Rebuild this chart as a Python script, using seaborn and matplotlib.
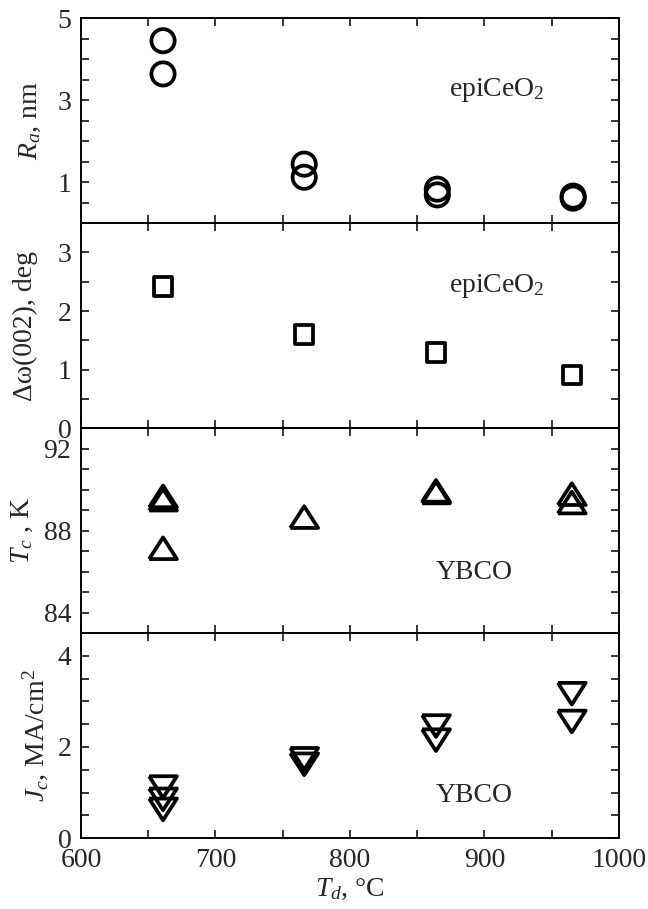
import numpy as np
import pandas as pd
import seaborn as sns
import matplotlib
matplotlib.use("Agg")
import matplotlib.pyplot as plt
from matplotlib.ticker import FixedLocator, MultipleLocator
from matplotlib.markers import MarkerStyle

# deposition temperature, deg C
td_ra = [661, 661, 766, 766, 865, 865, 966, 966]
ra = [4.45, 3.64, 1.44, 1.12, 0.83, 0.69, 0.66, 0.61]

td_dw = [661, 766, 864, 965]
dw = [2.42, 1.60, 1.29, 0.91]

td_tc = [661, 661, 661, 766, 864, 864, 965, 965]
tc = [89.67, 89.51, 87.14, 88.66, 89.94, 89.86, 89.78, 89.37]

td_jc = [661, 661, 661, 766, 766, 864, 864, 965, 965]
jc = [1.12, 0.85, 0.63, 1.74, 1.62, 2.46, 2.15, 3.17, 2.56]

sns.set_style("ticks")
plt.rcParams["font.family"] = ["Liberation Serif", "DejaVu Serif"]
plt.rcParams["mathtext.fontset"] = "custom"
plt.rcParams["mathtext.rm"] = "Liberation Serif"
plt.rcParams["mathtext.it"] = "Liberation Serif:italic"
plt.rcParams["font.size"] = 20

fig, axes = plt.subplots(4, 1, sharex=True, figsize=(6.48, 9.09), dpi=100)
fig.subplots_adjust(left=0.125, right=0.955, top=0.980, bottom=0.078, hspace=0)

tri_up = MarkerStyle([(-1, -0.78), (1, -0.78), (0, 0.78), (-1, -0.78)])
tri_dn = MarkerStyle([(-1, 0.78), (1, 0.78), (0, -0.78), (-1, 0.78)])

opts = dict(facecolor="none", edgecolor="black", linewidth=2.7, legend=False)

sns.scatterplot(data=pd.DataFrame({"td": td_ra, "v": ra}), x="td", y="v",
                marker="o", s=280, ax=axes[0], **opts)
sns.scatterplot(data=pd.DataFrame({"td": td_dw, "v": dw}), x="td", y="v",
                marker="s", s=175, ax=axes[1], **opts)
sns.scatterplot(data=pd.DataFrame({"td": td_tc, "v": tc}), x="td", y="v",
                marker=tri_up, s=400, ax=axes[2], **opts)
sns.scatterplot(data=pd.DataFrame({"td": td_jc, "v": jc}), x="td", y="v",
                marker=tri_dn, s=400, ax=axes[3], **opts)

ylims = [(0, 5), (0, 3.5), (83, 93), (0, 4.5)]
majors = [[1, 3, 5], [0, 1, 2, 3], [84, 88, 92], [0, 2, 4]]
minors = [0.5, 0.5, 1, 0.5]
ylabels = [r"$R_a$, nm", "\u0394\u03c9(002), deg", r"$T_c$ , K", r"$J_c$, MA/cm$^2$"]
label_x = [-0.070, -0.080, -0.086, -0.058]
notes = [("epiCeO$_2$", 3.25), ("epiCeO$_2$", 2.42), ("YBCO", 85.95), ("YBCO", 0.93)]

for i, ax in enumerate(axes):
    ax.set_xlim(600, 1000)
    ax.set_ylim(*ylims[i])
    ax.yaxis.set_major_locator(FixedLocator(majors[i]))
    ax.yaxis.set_minor_locator(MultipleLocator(minors[i]))
    ax.xaxis.set_major_locator(MultipleLocator(100))
    ax.xaxis.set_minor_locator(MultipleLocator(50))
    ax.tick_params(which="both", direction="in", top=True, right=True,
                   length=6, width=1.1, color="black")
    ax.tick_params(axis="y", which="major", pad=7, labelsize=20)
    ax.tick_params(axis="x", which="major", pad=7, labelsize=20)
    for sp in ax.spines.values():
        sp.set_linewidth(1.4)
        sp.set_color("black")
    ax.set_ylabel(ylabels[i], fontsize=20)
    ax.yaxis.set_label_coords(label_x[i], 0.5)
    ax.set_xlabel("")
    ax.text(874 if i < 2 else 864, notes[i][1], notes[i][0], fontsize=20,
            ha="left", va="center")

axes[3].set_xlabel(r"$T_d$, °C", fontsize=20, labelpad=3)

fig.savefig("out.png", dpi=100)
